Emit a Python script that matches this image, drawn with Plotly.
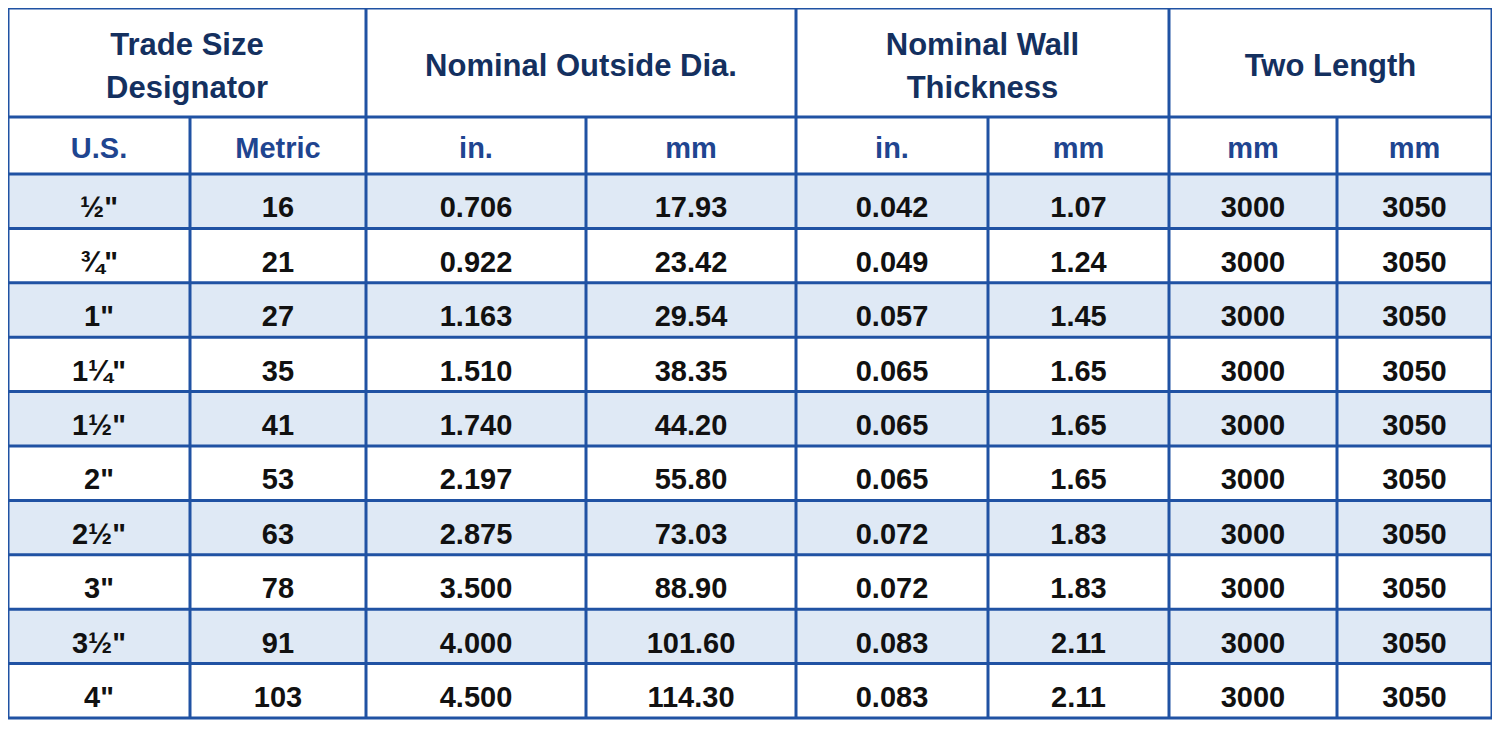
import plotly.graph_objects as go

# header texts
group_titles = ["Trade Size<br>Designator", "Nominal Outside Dia.", "Nominal Wall<br>Thickness", "Two Length"]
unit_titles = ["U.S.", "Metric", "in.", "mm", "in.", "mm", "mm", "mm"]

# table values
us_size = ['½"', '¾"', '1"', '1¼"', '1½"', '2"', '2½"', '3"', '3½"', '4"']
metric = ["16", "21", "27", "35", "41", "53", "63", "78", "91", "103"]
od_in = ["0.706", "0.922", "1.163", "1.510", "1.740", "2.197", "2.875", "3.500", "4.000", "4.500"]
od_mm = ["17.93", "23.42", "29.54", "38.35", "44.20", "55.80", "73.03", "88.90", "101.60", "114.30"]
wall_in = ["0.042", "0.049", "0.057", "0.065", "0.065", "0.065", "0.072", "0.072", "0.083", "0.083"]
wall_mm = ["1.07", "1.24", "1.45", "1.65", "1.65", "1.65", "1.83", "1.83", "2.11", "2.11"]
length_a = ["3000", "3000", "3000", "3000", "3000", "3000", "3000", "3000", "3000", "3000"]
length_b = ["3050", "3050", "3050", "3050", "3050", "3050", "3050", "3050", "3050", "3050"]

columns = [us_size, metric, od_in, od_mm, wall_in, wall_mm, length_a, length_b]

# layout, in page pixels (page body has an 8px margin, so the axes start at 8)
W, H = 1500, 738
OFF = 8
col_edges = [8, 190, 366, 586, 796, 988, 1169, 1337, 1492]
group_spans = [(0, 2), (2, 4), (4, 6), (6, 8)]
top, head1_bot, head2_bot, bottom = 8, 117, 174, 718
n_rows = len(us_size)
row_h = (bottom - head2_bot) / n_rows
row_edges = [head2_bot + i * row_h for i in range(n_rows + 1)]
line_gap = 43

BORDER = "#2052a3"
SHADE = "#dfe9f5"
NAVY = "#14305f"
BLUE = "#1f4590"
FONT = "Liberation Sans, Arial, sans-serif"

fig = go.Figure()
shapes = []

# shaded rows
for i in range(0, n_rows, 2):
    shapes.append(dict(type="rect", xref="x", yref="y", x0=col_edges[0], x1=col_edges[-1],
                       y0=row_edges[i], y1=row_edges[i + 1], fillcolor=SHADE, line_width=0, layer="below"))

# horizontal lines
for y in [top, head1_bot, head2_bot] + row_edges[1:]:
    shapes.append(dict(type="line", xref="x", yref="y", x0=col_edges[0] - 1.5, x1=col_edges[-1] + 1.5,
                       y0=y, y1=y, line=dict(color=BORDER, width=3)))

# vertical lines: group edges full height, inner edges below first header
group_edges = {col_edges[a] for a, b in group_spans} | {col_edges[-1]}
for x in col_edges:
    y0 = top if x in group_edges else head1_bot
    shapes.append(dict(type="line", xref="x", yref="y", x0=x, x1=x, y0=y0, y1=bottom,
                       line=dict(color=BORDER, width=3)))

# group header text, one line at a time so the line gap matches
hx, hy, ht = [], [], []
mid1 = (top + head1_bot) / 2 + 6
for (a, b), title in zip(group_spans, group_titles):
    parts = title.split("<br>")
    for k, part in enumerate(parts):
        hx.append((col_edges[a] + col_edges[b]) / 2)
        hy.append(mid1 + (k - (len(parts) - 1) / 2) * line_gap)
        ht.append(part)
fig.add_trace(go.Scatter(x=hx, y=hy, mode="text", text=ht,
                         textfont=dict(family=FONT, size=31, color=NAVY), hoverinfo="skip"))

# unit header text
cx = [(col_edges[j] + col_edges[j + 1]) / 2 for j in range(len(columns))]
fig.add_trace(go.Scatter(x=cx, y=[(head1_bot + head2_bot) / 2 + 5] * len(cx), mode="text", text=unit_titles,
                         textfont=dict(family=FONT, size=29, color=BLUE), hoverinfo="skip"))

# body text
ry = [(row_edges[i] + row_edges[i + 1]) / 2 + 9 for i in range(n_rows)]
for j, col in enumerate(columns):
    fig.add_trace(go.Scatter(x=[cx[j]] * n_rows, y=ry, mode="text", text=col,
                             textfont=dict(family=FONT, size=29, color="#111111"), hoverinfo="skip"))

fig.update_layout(
    width=W - OFF, height=H - OFF, margin=dict(l=0, r=0, t=0, b=0),
    paper_bgcolor="white", plot_bgcolor="white", showlegend=False, shapes=shapes,
    xaxis=dict(range=[OFF, W], visible=False, fixedrange=True),
    yaxis=dict(range=[H, OFF], visible=False, fixedrange=True),
    font=dict(family=FONT, size=29, color="#111111"),
)
fig.update_traces(texttemplate="<b>%{text}</b>")

fig.write_html("out.html")
